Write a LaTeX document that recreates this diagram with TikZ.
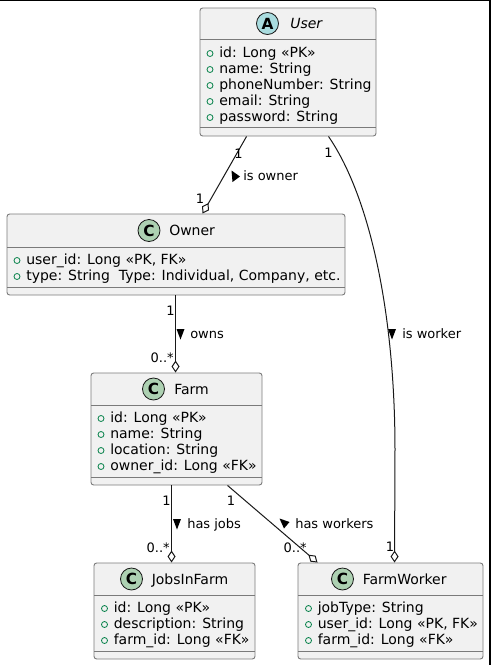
\documentclass[tikz,border=0pt]{standalone}
\usepackage{fontspec}
\setmainfont{DejaVu Sans}
\usetikzlibrary{arrows.meta,fit,calc}
\definecolor{boxfill}{HTML}{F1F1F1}
\definecolor{boxline}{HTML}{181818}
\definecolor{boxedge}{HTML}{7A7A7A}
\definecolor{ciclass}{HTML}{ADD1B2}
\definecolor{ciabs}{HTML}{A9DCDF}
\definecolor{visgreen}{HTML}{038048}
\begin{document}
\begin{tikzpicture}[x=0.75pt,y=-0.75pt,
 classbox/.style={draw=boxedge, fill=boxfill, line width=0.7pt, rounded corners=2pt, inner sep=0pt},
 sepline/.style={draw=boxedge, line width=0.7pt},
 attr/.style={anchor=base west, inner sep=0pt, font=\fontsize{10.5pt}{12pt}\selectfont},
 ctitle/.style={anchor=base west, inner sep=0pt, font=\fontsize{10.5pt}{12pt}\selectfont},
 lbl/.style={anchor=base, inner sep=0pt, font=\fontsize{9.75pt}{11pt}\selectfont},
 lble/.style={lbl, anchor=base east},
 lblw/.style={lbl, anchor=base west},
 conn/.style={draw=boxline, line width=0.75pt},
 agg/.style={conn, -{Diamond[open,length=9pt,width=6pt]}},
 vis/.style={draw=visgreen, line width=0.6pt},
 icon/.style={circle, draw=boxline, line width=0.6pt, minimum size=16.5pt, inner sep=0pt, font=\bfseries\fontsize{11.5pt}{11.5pt}\selectfont},
 dirtri/.style={fill=black},
]
\useasboundingbox (0,0) rectangle (491,665);
\fill[black] (0,0) rectangle (491,1.2);
\fill[black] (489,0) rectangle (491,665);

% ---------- User ----------
\node[classbox, fit={(200,8) (376,136)}] (user) {};
\draw[sepline] (200,39) -- (376,39);
\draw[sepline] (200,127) -- (376,127);
\node[icon, fill=ciabs] (usericon) at (267.5,23.5) {A};
\node[ctitle, font=\itshape\fontsize{10.5pt}{12pt}\selectfont] (usertitle) at (290,28.5) {User};
\foreach \yy/\tt in {52/{id: Long «PK»}, 68/{name: String}, 84/{phoneNumber: String}, 100/{email: String}, 116/{password: String}}{
  \draw[vis] (210,\yy+1.5) circle[radius=2.25pt];
  \node[attr] at (219,\yy+5) {\tt};
}

% ---------- Owner ----------
\node[classbox, fit={(7,214) (345,295)}] (owner) {};
\draw[sepline] (7,247) -- (345,247);
\draw[sepline] (7,287) -- (345,287);
\node[icon, fill=ciclass] (ownericon) at (149,230.5) {C};
\node[ctitle] (ownertitle) at (169,235.5) {Owner};
\foreach \yy/\tt in {259/{user\_id: Long «PK, FK»}, 275/{type: String~~Type: Individual, Company, etc.}}{
  \draw[vis] (17,\yy+1.5) circle[radius=2.25pt];
  \node[attr] at (26,\yy+5) {\tt};
}

% ---------- Farm ----------
\node[classbox, fit={(91,373) (262,485)}] (farm) {};
\draw[sepline] (91,405) -- (262,405);
\draw[sepline] (91,477) -- (262,477);
\node[icon, fill=ciclass] (farmicon) at (153.5,389) {C};
\node[ctitle] (farmtitle) at (174,394) {Farm};
\foreach \yy/\tt in {417/{id: Long «PK»}, 433/{name: String}, 449/{location: String}, 465/{owner\_id: Long «FK»}}{
  \draw[vis] (101,\yy+1.5) circle[radius=2.25pt];
  \node[attr] at (110,\yy+5) {\tt};
}

% ---------- JobsInFarm ----------
\node[classbox, fit={(94,563) (255,659)}] (jobs) {};
\draw[sepline] (94,595) -- (255,595);
\draw[sepline] (94,651) -- (255,651);
\node[icon, fill=ciclass] (jobsicon) at (131.5,579) {C};
\node[ctitle] (jobstitle) at (151.5,584) {JobsInFarm};
\foreach \yy/\tt in {607/{id: Long «PK»}, 623/{description: String}, 639/{farm\_id: Long «FK»}}{
  \draw[vis] (104.5,\yy+1.5) circle[radius=2.25pt];
  \node[attr] at (113.5,\yy+5) {\tt};
}

% ---------- FarmWorker ----------
\node[classbox, fit={(298,563) (483,659)}] (farmworker) {};
\draw[sepline] (298,595) -- (483,595);
\draw[sepline] (298,651) -- (483,651);
\node[icon, fill=ciclass] (fwicon) at (342.5,579) {C};
\node[ctitle] (fwtitle) at (362.5,584) {FarmWorker};
\foreach \yy/\tt in {607/{jobType: String}, 623/{user\_id: Long «PK, FK»}, 639/{farm\_id: Long «FK»}}{
  \draw[vis] (308.5,\yy+1.5) circle[radius=2.25pt];
  \node[attr] at (317.5,\yy+5) {\tt};
}

% ---------- Connectors ----------
\draw[agg] ($(user.south west)+(47,0)$) -- ($(owner.north west)+(196,0)$);
\draw[agg] ($(user.south west)+(129,0)$) .. controls (372,200) and (395,320) .. (395,450) -- ($(farmworker.north west)+(97,0)$);
\draw[agg] ($(owner.south west)+(169,0)$) -- ($(farm.north west)+(85,0)$);
\draw[agg] ($(farm.south west)+(81,0)$) -- ($(jobs.north west)+(78,0)$);
\draw[agg] ($(farm.south west)+(137,0)$) -- ($(farmworker.north west)+(20,0)$);

% ---------- Multiplicities ----------
\node[lbl] (m1) at (238.5,158) {1};
\node[lbl] (m2) at (200,203) {1};
\node[lbl] (m3) at (328.5,157) {1};
\node[lbl] (m4) at (390,551.5) {1};
\node[lbl] (m5) at (170.5,315) {1};
\node[lble] (m6) at (174,362) {0..*};
\node[lbl] (m7) at (166.5,505) {1};
\node[lble] (m8) at (170,552) {0..*};
\node[lbl] (m9) at (231,505) {1};
\node[lble] (m10) at (307,552) {0..*};

% ---------- Association labels ----------
\fill[dirtri] (231.5,170.5) -- (240,176.5) -- (232.5,182) -- cycle;
\node[lblw] (l1) at (243,180.5) {is owner};
\fill[dirtri] (388,329) -- (396,329) -- (392,339.5) -- cycle;
\node[lblw] (l2) at (402,338) {is worker};
\fill[dirtri] (176.5,329) -- (184.5,329) -- (180.5,339.5) -- cycle;
\node[lblw] (l3) at (190,338) {owns};
\fill[dirtri] (173,519) -- (181,519) -- (177,529.5) -- cycle;
\node[lblw] (l4) at (187,528) {has jobs};
\fill[dirtri] (279.5,518.5) -- (289.5,522) -- (284,528.5) -- cycle;
\node[lblw] (l5) at (295,528) {has workers};
\end{tikzpicture}
\end{document}
